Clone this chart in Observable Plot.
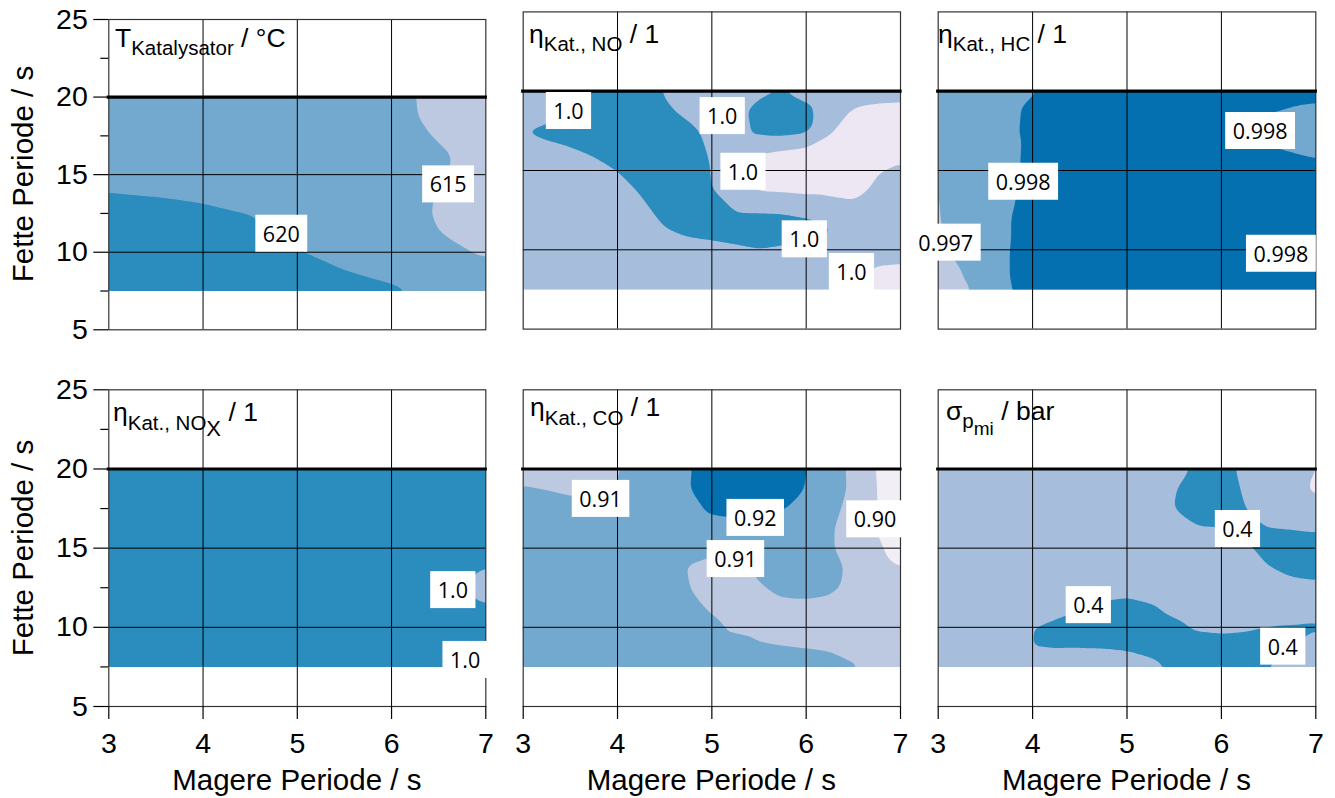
<!DOCTYPE html>
<html>
<head>
<meta charset="utf-8">
<script src="https://cdn.jsdelivr.net/npm/d3@7"></script>
<script src="https://cdn.jsdelivr.net/npm/@observablehq/plot@0.6"></script>
<style>
  body { margin: 0; background: #fff; }
  #root { position: relative; width: 1335px; height: 798px; overflow: hidden; background: #fff;
          font-family: "Liberation Sans", Arial, sans-serif; color: #000; }
  .panel { position: absolute; }
  .ptitle { position: absolute; font-size: 26.5px; line-height: 1; white-space: nowrap; }
  .ptitle .s { position: relative; top: 8.5px; font-size: 20.5px; }
  .ptitle .ss { position: relative; top: 6.5px; font-size: 22px; }
  .ptitle .sm { position: relative; top: 7px; font-size: 19px; }
  .xtitle { position: absolute; font-size: 29.5px; line-height: 1; white-space: nowrap; transform: translateX(-50%); }
  .ytitle { position: absolute; font-size: 29.5px; line-height: 1; white-space: nowrap; transform: translate(-50%, -50%) rotate(-90deg); }
</style>
</head>
<body>
<div id="root"></div>
<script>
// ---------------- data ----------------
const magere9  = [3, 3.5, 4, 4.5, 5, 5.5, 6, 6.5, 7];
const magere17 = [3, 3.25, 3.5, 3.75, 4, 4.25, 4.5, 4.75, 5, 5.25, 5.5, 5.75, 6, 6.25, 6.5, 6.75, 7];
const fette    = [20, 18.75, 17.5, 16.25, 15, 13.75, 12.5, 11.25, 10, 8.75, 7.5];

const xTicks = [3, 4, 5, 6, 7];
const yTicks = [5, 10, 15, 20, 25];
const yMinorTicks = [7.5, 12.5, 17.5, 22.5];
const xGrid = [4, 5, 6];
const yGrid = [10, 15];
const fetteGrenze = [20];

// T Katalysator / °C  (rows: Fette Periode 20 -> 7.5, cols: magere9)
const tempKat = [
  [617.5, 617.5, 617.5, 617.5, 617.5, 617.5, 616.3, 613.8, 612.5],
  [617.5, 617.5, 617.5, 617.5, 617.5, 617.5, 616.4, 613.9, 612.5],
  [617.5, 617.5, 617.5, 617.5, 617.5, 617.5, 617.1, 614.6, 612.9],
  [617.6, 617.5, 617.5, 617.5, 617.5, 617.5, 617.5, 615.7, 613.2],
  [618.8, 618.6, 618.1, 617.5, 617.5, 617.5, 617.5, 615.5, 613.0],
  [620.1, 619.8, 619.4, 618.7, 617.5, 617.5, 617.3, 614.8, 612.5],
  [621.3, 621.1, 620.6, 619.9, 617.7, 617.5, 617.1, 614.6, 612.5],
  [622.5, 622.3, 621.9, 621.2, 619.0, 617.5, 617.5, 615.05, 612.5],
  [622.5, 622.5, 622.5, 622.4, 620.2, 618.8, 618.0, 616.8, 614.3],
  [622.5, 622.5, 622.5, 622.5, 621.5, 620.1, 619.2, 618.1, 617.0],
  [622.5, 622.5, 622.5, 622.5, 622.5, 621.3, 620.5, 619.3, 618.5]
];

// eta Kat., NO (cols: magere17)
const etaNO = [
  [0.99750, 0.99750, 0.99764, 0.99810, 0.99850, 0.99842, 0.99792, 0.99750, 0.99750, 0.99750, 0.99780, 0.99797, 0.99768, 0.99755, 0.99748, 0.99731, 0.99728],
  [0.99750, 0.99768, 0.99804, 0.99850, 0.99850, 0.99850, 0.99816, 0.99776, 0.99750, 0.99774, 0.99830, 0.99855, 0.99822, 0.99750, 0.99690, 0.99681, 0.99678],
  [0.99803, 0.99818, 0.99843, 0.99850, 0.99850, 0.99850, 0.99850, 0.99824, 0.99774, 0.99755, 0.99825, 0.99840, 0.99825, 0.99710, 0.99658, 0.99650, 0.99650],
  [0.99764, 0.99781, 0.99790, 0.99816, 0.99850, 0.99850, 0.99850, 0.99838, 0.99788, 0.99750, 0.99706, 0.99690, 0.99674, 0.99658, 0.99650, 0.99650, 0.99668],
  [0.99750, 0.99750, 0.99750, 0.99766, 0.99802, 0.99850, 0.99850, 0.99848, 0.99798, 0.99710, 0.99660, 0.99650, 0.99650, 0.99650, 0.99650, 0.99694, 0.99718],
  [0.99750, 0.99750, 0.99750, 0.99750, 0.99760, 0.99810, 0.99850, 0.99850, 0.99804, 0.99754, 0.99690, 0.99686, 0.99676, 0.99676, 0.99668, 0.99718, 0.99745],
  [0.99750, 0.99750, 0.99750, 0.99750, 0.99750, 0.99778, 0.99828, 0.99850, 0.99844, 0.99796, 0.99794, 0.99792, 0.99785, 0.99750, 0.99730, 0.99750, 0.99750],
  [0.99750, 0.99750, 0.99750, 0.99750, 0.99750, 0.99750, 0.99796, 0.99818, 0.99826, 0.99836, 0.99844, 0.99839, 0.99822, 0.99810, 0.99766, 0.99750, 0.99750],
  [0.99750, 0.99750, 0.99750, 0.99750, 0.99750, 0.99750, 0.99750, 0.99768, 0.99776, 0.99786, 0.99798, 0.99789, 0.99772, 0.99760, 0.99750, 0.99742, 0.99735],
  [0.99750, 0.99750, 0.99750, 0.99750, 0.99750, 0.99750, 0.99750, 0.99750, 0.99750, 0.99750, 0.99750, 0.99750, 0.99750, 0.99750, 0.99740, 0.99690, 0.99685],
  [0.99750, 0.99750, 0.99750, 0.99750, 0.99750, 0.99750, 0.99750, 0.99750, 0.99750, 0.99750, 0.99750, 0.99750, 0.99750, 0.99750, 0.99710, 0.99660, 0.99650]
];

// eta Kat., HC (cols: magere9)
const etaHC = [
  [0.99740, 0.99750, 0.99795, 0.99850, 0.99850, 0.99850, 0.99850, 0.99840, 0.99830],
  [0.99735, 0.99757, 0.99815, 0.99850, 0.99850, 0.99850, 0.99850, 0.99805, 0.99780],
  [0.99730, 0.99768, 0.99815, 0.99850, 0.99850, 0.99850, 0.99840, 0.99770, 0.99750],
  [0.99725, 0.99753, 0.99815, 0.99850, 0.99850, 0.99850, 0.99850, 0.99810, 0.99780],
  [0.99708, 0.99757, 0.99815, 0.99850, 0.99850, 0.99850, 0.99850, 0.99850, 0.99830],
  [0.99695, 0.99773, 0.99815, 0.99850, 0.99850, 0.99850, 0.99850, 0.99850, 0.99850],
  [0.99693, 0.99779, 0.99815, 0.99850, 0.99850, 0.99850, 0.99850, 0.99850, 0.99850],
  [0.99691, 0.99782, 0.99815, 0.99850, 0.99850, 0.99850, 0.99850, 0.99850, 0.99810],
  [0.99674, 0.99784, 0.99815, 0.99850, 0.99850, 0.99850, 0.99850, 0.99820, 0.99785],
  [0.99616, 0.99784, 0.99815, 0.99850, 0.99850, 0.99850, 0.99850, 0.99850, 0.99820],
  [0.99501, 0.99778, 0.99815, 0.99850, 0.99850, 0.99850, 0.99850, 0.99850, 0.99850]
];

// eta Kat., NOx (cols: magere9)
const etaNOx = [
  [0.9985, 0.9985, 0.9985, 0.9985, 0.9985, 0.9985, 0.9985, 0.9985, 0.9985],
  [0.9985, 0.9985, 0.9985, 0.9985, 0.9985, 0.9985, 0.9985, 0.9985, 0.9985],
  [0.9985, 0.9985, 0.9985, 0.9985, 0.9985, 0.9985, 0.9985, 0.9985, 0.9985],
  [0.9985, 0.9985, 0.9985, 0.9985, 0.9985, 0.9985, 0.9985, 0.9985, 0.9985],
  [0.9985, 0.9985, 0.9985, 0.9985, 0.9985, 0.9985, 0.9985, 0.9985, 0.9985],
  [0.9985, 0.9985, 0.9985, 0.9985, 0.9985, 0.9985, 0.9985, 0.9985, 0.99798],
  [0.9985, 0.9985, 0.9985, 0.9985, 0.9985, 0.9985, 0.9985, 0.9982, 0.9977],
  [0.9985, 0.9985, 0.9985, 0.9985, 0.9985, 0.9985, 0.9985, 0.9985, 0.99805],
  [0.9985, 0.9985, 0.9985, 0.9985, 0.9985, 0.9985, 0.9985, 0.9985, 0.9985],
  [0.9985, 0.9985, 0.9985, 0.9985, 0.9985, 0.9985, 0.9985, 0.9985, 0.9983],
  [0.9985, 0.9985, 0.9985, 0.9985, 0.9985, 0.9985, 0.9985, 0.9984, 0.9978]
];

// eta Kat., CO (cols: magere17)
const etaCO = [
  [0.9058, 0.9050, 0.9050, 0.9050, 0.9094, 0.9144, 0.9150, 0.9192, 0.9242, 0.9250, 0.9250, 0.9250, 0.9202, 0.9134, 0.9084, 0.8995, 0.8920],
  [0.9108, 0.9096, 0.9082, 0.9076, 0.9106, 0.9150, 0.9150, 0.9196, 0.9246, 0.9250, 0.9250, 0.9248, 0.9197, 0.9136, 0.9086, 0.9000, 0.8920],
  [0.9150, 0.9148, 0.9132, 0.9126, 0.9144, 0.9150, 0.9150, 0.9170, 0.9216, 0.9224, 0.9226, 0.9205, 0.9170, 0.9124, 0.9074, 0.9004, 0.8920],
  [0.9150, 0.9150, 0.9150, 0.9150, 0.9150, 0.9150, 0.9150, 0.9150, 0.9166, 0.9174, 0.9176, 0.9155, 0.9150, 0.9110, 0.9060, 0.8995, 0.8920],
  [0.9150, 0.9150, 0.9150, 0.9150, 0.9150, 0.9150, 0.9150, 0.9126, 0.9122, 0.9124, 0.9150, 0.9150, 0.9150, 0.9110, 0.9060, 0.9020, 0.8950],
  [0.9150, 0.9150, 0.9150, 0.9150, 0.9150, 0.9150, 0.9144, 0.9094, 0.9072, 0.9070, 0.9120, 0.9150, 0.9150, 0.9130, 0.9080, 0.9042, 0.9002],
  [0.9150, 0.9150, 0.9150, 0.9150, 0.9150, 0.9150, 0.9148, 0.9102, 0.9052, 0.9050, 0.9090, 0.9125, 0.9129, 0.9120, 0.9075, 0.9050, 0.9050],
  [0.9150, 0.9150, 0.9150, 0.9150, 0.9150, 0.9150, 0.9150, 0.9134, 0.9084, 0.9050, 0.9050, 0.9075, 0.9079, 0.9068, 0.9050, 0.9050, 0.9050],
  [0.9150, 0.9150, 0.9150, 0.9150, 0.9150, 0.9150, 0.9150, 0.9150, 0.9128, 0.9078, 0.9064, 0.9054, 0.9050, 0.9050, 0.9050, 0.9050, 0.9050],
  [0.9150, 0.9150, 0.9150, 0.9150, 0.9150, 0.9150, 0.9150, 0.9150, 0.9150, 0.9150, 0.9114, 0.9104, 0.9096, 0.9088, 0.9062, 0.9050, 0.9050],
  [0.9150, 0.9150, 0.9150, 0.9150, 0.9150, 0.9150, 0.9150, 0.9150, 0.9150, 0.9150, 0.9150, 0.9150, 0.9150, 0.9138, 0.9112, 0.9062, 0.9050]
];

// sigma p_mi / bar (cols: magere17)
const sigmaPmi = [
  [0.350, 0.350, 0.350, 0.350, 0.350, 0.350, 0.350, 0.350, 0.350, 0.350, 0.366, 0.416, 0.430, 0.380, 0.350, 0.340, 0.295],
  [0.350, 0.350, 0.350, 0.350, 0.350, 0.350, 0.350, 0.350, 0.350, 0.350, 0.394, 0.444, 0.440, 0.390, 0.350, 0.330, 0.285],
  [0.350, 0.350, 0.350, 0.350, 0.350, 0.350, 0.350, 0.350, 0.350, 0.350, 0.402, 0.444, 0.449, 0.402, 0.352, 0.350, 0.328],
  [0.350, 0.350, 0.350, 0.350, 0.350, 0.350, 0.350, 0.350, 0.350, 0.350, 0.354, 0.394, 0.397, 0.422, 0.402, 0.396, 0.390],
  [0.350, 0.350, 0.350, 0.350, 0.350, 0.350, 0.350, 0.350, 0.350, 0.350, 0.350, 0.350, 0.350, 0.382, 0.432, 0.446, 0.440],
  [0.350, 0.350, 0.350, 0.350, 0.350, 0.350, 0.350, 0.350, 0.350, 0.350, 0.350, 0.350, 0.350, 0.350, 0.397, 0.423, 0.431],
  [0.350, 0.350, 0.350, 0.350, 0.350, 0.350, 0.350, 0.366, 0.375, 0.360, 0.350, 0.350, 0.350, 0.350, 0.350, 0.373, 0.381],
  [0.350, 0.350, 0.350, 0.350, 0.350, 0.370, 0.392, 0.416, 0.425, 0.410, 0.374, 0.350, 0.350, 0.350, 0.350, 0.358, 0.370],
  [0.350, 0.350, 0.350, 0.352, 0.402, 0.420, 0.444, 0.450, 0.450, 0.450, 0.424, 0.388, 0.383, 0.388, 0.402, 0.408, 0.410],
  [0.350, 0.350, 0.350, 0.364, 0.404, 0.406, 0.403, 0.404, 0.410, 0.426, 0.450, 0.442, 0.433, 0.438, 0.446, 0.402, 0.359],
  [0.350, 0.350, 0.350, 0.350, 0.354, 0.356, 0.353, 0.354, 0.360, 0.376, 0.412, 0.450, 0.450, 0.444, 0.395, 0.352, 0.350]
];

// contour levels and colours
const levelsT = [605, 615, 620];
const levelsNO = [0.99, 0.997, 0.998];
const levelsHC = [0.99, 0.997, 0.998];
const levelsNOx = [0.99, 0.998];
const levelsCO = [0.85, 0.90, 0.91, 0.92];
const levelsSigma = [0.1, 0.3, 0.4];

const coloursT = ["#bdc9e1", "#74a9cf", "#2b8cbe"];
const coloursNO = ["#ece7f2", "#a6bddb", "#2b8cbe"];
const coloursHC = ["#bdc9e1", "#74a9cf", "#0570b0"];
const coloursNOx = ["#a6bddb", "#2b8cbe"];
const coloursCO = ["#f1eef6", "#bdc9e1", "#74a9cf", "#0570b0"];
const coloursSigma = ["#ece7f2", "#a6bddb", "#2b8cbe"];

// contour labels (data coordinates)
const labelsT = [{x: 4.83, y: 11.12, t: "620"}, {x: 6.6, y: 14.3, t: "615"}];
const labelsNO = [{x: 3.48, y: 18.68, t: "1.0"}, {x: 5.11, y: 18.36, t: "1.0"}, {x: 5.33, y: 14.85, t: "1.0"}, {x: 5.98, y: 10.59, t: "1.0"}, {x: 6.48, y: 8.53, t: "1.0"}];
const labelsHC = [{x: 6.41, y: 17.42, t: "0.998"}, {x: 3.9, y: 14.22, t: "0.998"}, {x: 3.08, y: 10.38, t: "0.997"}, {x: 6.63, y: 9.68, t: "0.998"}];
const labelsNOx = [{x: 6.65, y: 12.28, t: "1.0"}, {x: 6.78, y: 7.87, t: "1.0"}];
const labelsCO = [{x: 3.82, y: 18.04, t: "0.91"}, {x: 5.46, y: 16.84, t: "0.92"}, {x: 5.25, y: 14.24, t: "0.91"}, {x: 6.73, y: 16.75, t: "0.90"}];
const labelsSigma = [{x: 6.17, y: 16.14, t: "0.4"}, {x: 4.59, y: 11.33, t: "0.4"}, {x: 6.65, y: 8.71, t: "0.4"}];

const xLabel = "Magere Periode / s";
const yLabel = "Fette Periode / s";

// ---------------- layout ----------------
const panels = [
  {z: tempKat, xs: magere9,  lv: levelsT,     col: coloursT,     lab: labelsT,
   title: 'T<span class="s">Katalysator</span> / °C', tl: 115, tb: 47,
   left: 0, top: 0, w: 500, h: 340, fl: 108.3, fr: 485.3, ft: 19, fb: 329.3, yAxis: true, xAxis: false},
  {z: etaNO, xs: magere17, lv: levelsNO, col: coloursNO, lab: labelsNO,
   title: 'η<span class="s">Kat., NO</span> / 1', tl: 529, tb: 43.3,
   left: 500, top: 0, w: 420, h: 340, fl: 522.7, fr: 900, ft: 11.4, fb: 328.6, yAxis: false, xAxis: false},
  {z: etaHC, xs: magere9, lv: levelsHC, col: coloursHC, lab: labelsHC,
   title: 'η<span class="s">Kat., HC</span> / 1', tl: 938, tb: 43.3,
   left: 910, top: 0, w: 425, h: 340, fl: 937.7, fr: 1315.3, ft: 11.4, fb: 328.6, yAxis: false, xAxis: false},
  {z: etaNOx, xs: magere9, lv: levelsNOx, col: coloursNOx, lab: labelsNOx,
   title: 'η<span class="s">Kat., NO<span class="ss">X</span></span> / 1', tl: 113, tb: 421.7,
   left: 0, top: 370, w: 500, h: 428, fl: 108.3, fr: 485.3, ft: 389.3, fb: 706, yAxis: true, xAxis: true},
  {z: etaCO, xs: magere17, lv: levelsCO, col: coloursCO, lab: labelsCO,
   title: 'η<span class="s">Kat., CO</span> / 1', tl: 530, tb: 416.7,
   left: 500, top: 370, w: 420, h: 428, fl: 522.7, fr: 900, ft: 389.3, fb: 706, yAxis: false, xAxis: true},
  {z: sigmaPmi, xs: magere17, lv: levelsSigma, col: coloursSigma, lab: labelsSigma,
   title: 'σ<span class="s">p<span class="sm">mi</span></span> / bar', tl: 946, tb: 420,
   left: 910, top: 370, w: 425, h: 428, fl: 937.7, fr: 1315.3, ft: 389.3, fb: 706, yAxis: false, xAxis: true}
];

const root = document.getElementById("root");

for (const p of panels) {
  const pts = [];
  p.z.forEach((row, r) => row.forEach((v, c) => pts.push({x: p.xs[c], y: fette[r], v})));

  const marks = [
    Plot.contour(pts, {
      x: "x", y: "y", fill: "v",
      interpolate: "barycentric",
      thresholds: p.lv,
      x1: 3, x2: 7, y1: 7.5, y2: 20,
      blur: 2
    }),
    Plot.gridX(xGrid, {stroke: "#000", strokeOpacity: 1, strokeWidth: 1}),
    Plot.gridY(yGrid, {stroke: "#000", strokeOpacity: 1, strokeWidth: 1}),
    Plot.frame({stroke: "#333", strokeWidth: 1.2}),
    Plot.ruleY(fetteGrenze, {stroke: "#000", strokeWidth: 3.2, strokeLinecap: "square"})
  ];
  if (p.yAxis) {
    marks.push(Plot.axisY(yTicks, {tickSize: 15, tickPadding: 6, fontSize: 28.5, label: null, stroke: "#000", strokeWidth: 1.2}));
    marks.push(Plot.axisY(yMinorTicks, {tickSize: 8, tickFormat: () => "", label: null, stroke: "#000", strokeWidth: 1.2}));
  }
  if (p.xAxis) {
    marks.push(Plot.axisX(xTicks, {tickSize: 13, tickPadding: 13.5, fontSize: 28.5, label: null, stroke: "#000", strokeWidth: 1.2}));
  }
  marks.push(Plot.text(p.lab, {x: "x", y: "y", text: "t", fontSize: 21.5, fontFamily: "Open Sans", fill: "#000"}));

  const svg = Plot.plot({
    width: p.w, height: p.h,
    marginLeft: p.fl - p.left,
    marginRight: p.left + p.w - p.fr,
    marginTop: p.ft - p.top,
    marginBottom: p.top + p.h - p.fb,
    x: {domain: [3, 7], ...(p.xAxis ? {} : {axis: null})},
    y: {domain: [5, 25], ...(p.yAxis ? {} : {axis: null})},
    color: {type: "ordinal", domain: p.lv, range: p.col},
    style: {background: "transparent", overflow: "visible", fontFamily: '"Liberation Sans", Arial, sans-serif', color: "#000"},
    marks
  });

  const holder = document.createElement("div");
  holder.className = "panel";
  holder.style.left = p.left + "px";
  holder.style.top = p.top + "px";
  holder.style.width = p.w + "px";
  holder.style.height = p.h + "px";
  holder.appendChild(svg);
  root.appendChild(holder);

  // white boxes behind the contour labels
  svg.querySelectorAll('g[aria-label="text"] text').forEach(t => {
    const b = t.getBBox();
    const cy = b.y + b.height / 2;
    const r = document.createElementNS("http://www.w3.org/2000/svg", "rect");
    r.setAttribute("x", b.x - 7.5);
    r.setAttribute("y", cy - 18.5);
    r.setAttribute("width", b.width + 15);
    r.setAttribute("height", 37);
    r.setAttribute("fill", "#fff");
    const tr = t.getAttribute("transform");
    if (tr) r.setAttribute("transform", tr);
    t.parentNode.insertBefore(r, t);
  });

  const ti = document.createElement("div");
  ti.className = "ptitle";
  ti.style.left = p.tl + "px";
  ti.style.top = (p.tb - 0.8465 * 26.5) + "px";
  ti.innerHTML = p.title;
  root.appendChild(ti);

  if (p.xAxis) {
    const xt = document.createElement("div");
    xt.className = "xtitle";
    xt.style.left = ((p.fl + p.fr) / 2) + "px";
    xt.style.top = (790 - 0.8465 * 29.5) + "px";
    xt.textContent = xLabel;
    root.appendChild(xt);
  }
  if (p.yAxis) {
    const yt = document.createElement("div");
    yt.className = "ytitle";
    yt.style.left = "22.5px";
    yt.style.top = ((p.ft + p.fb) / 2) + "px";
    yt.textContent = yLabel;
    root.appendChild(yt);
  }
}
</script>
</body>
</html>
